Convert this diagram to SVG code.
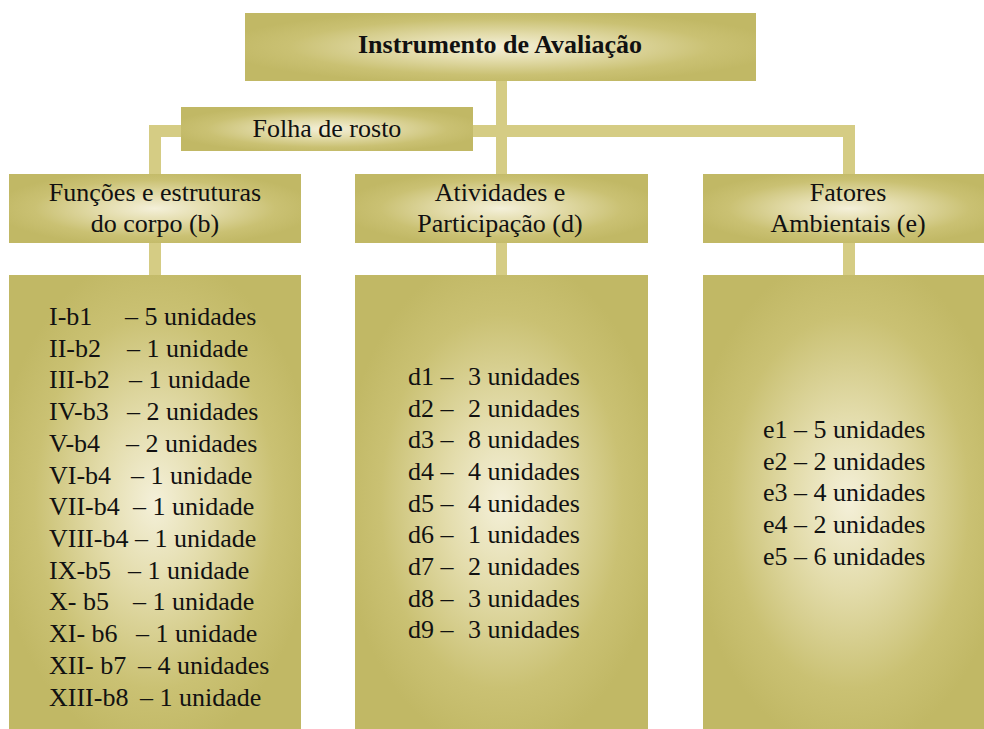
<svg xmlns="http://www.w3.org/2000/svg" width="984" height="729" viewBox="0 0 984 729">
<style>
text{font-family:"Liberation Serif","Times New Roman",serif;font-size:26px;fill:#111;}
.t{text-anchor:middle;}
.b{font-weight:bold;}
.box{fill:url(#g);}
.bar{fill:#d5cc84;}
</style>
<defs>
<radialGradient id="g" cx="0.5" cy="0.5" r="0.55">
<stop offset="0" stop-color="#f4f0d9"/>
<stop offset="0.35" stop-color="#e3dcab"/>
<stop offset="0.75" stop-color="#cac173"/>
<stop offset="1" stop-color="#c1b865"/>
</radialGradient>
</defs>
<rect width="984" height="729" fill="#fff"/>
<g id="connectors">
<rect class="bar" x="496" y="81" width="11" height="194"/>
<rect class="bar" x="149" y="125" width="706" height="12"/>
<rect class="bar" x="149" y="125" width="12" height="150"/>
<rect class="bar" x="843" y="125" width="12" height="150"/>
</g>
<g id="instrumento">
<rect class="box" x="245" y="13" width="511" height="68"/>
<text class="t b" x="500" y="53">Instrumento de Avaliação</text>
</g>
<g id="folha">
<rect class="box" x="181" y="107" width="292" height="44"/>
<text class="t" x="327" y="137">Folha de rosto</text>
</g>
<g id="funcoes">
<rect class="box" x="9" y="174" width="292" height="69"/>
<text class="t" x="155" y="201">Funções e estruturas</text>
<text class="t" x="155" y="232">do corpo (b)</text>
</g>
<g id="atividades">
<rect class="box" x="355" y="174" width="293" height="69"/>
<text class="t" x="500" y="201">Atividades e</text>
<text class="t" x="500" y="232">Participação (d)</text>
</g>
<g id="fatores">
<rect class="box" x="703" y="174" width="292" height="69"/>
<text class="t" x="848" y="201">Fatores</text>
<text class="t" x="848" y="232">Ambientais (e)</text>
</g>
<g id="lista-b">
<rect class="box" x="9" y="275" width="292" height="454"/>
<text x="49" y="325">I-b1</text><text x="125" y="325">– 5 unidades</text>
<text x="49" y="357">II-b2</text><text x="127" y="357">– 1 unidade</text>
<text x="49" y="388">III-b2</text><text x="129" y="388">– 1 unidade</text>
<text x="49" y="420">IV-b3</text><text x="127" y="420">– 2 unidades</text>
<text x="49" y="452">V-b4</text><text x="126" y="452">– 2 unidades</text>
<text x="49" y="484">VI-b4</text><text x="131" y="484">– 1 unidade</text>
<text x="49" y="515">VII-b4</text><text x="133" y="515">– 1 unidade</text>
<text x="49" y="547">VIII-b4</text><text x="135" y="547">– 1 unidade</text>
<text x="49" y="579">IX-b5</text><text x="128" y="579">– 1 unidade</text>
<text x="49" y="610">X- b5</text><text x="133" y="610">– 1 unidade</text>
<text x="49" y="642">XI- b6</text><text x="136" y="642">– 1 unidade</text>
<text x="49" y="674">XII- b7</text><text x="138" y="674">– 4 unidades</text>
<text x="49" y="706">XIII-b8</text><text x="140" y="706">– 1 unidade</text>
</g>
<g id="lista-d">
<rect class="box" x="355" y="275" width="293" height="454"/>
<text x="408" y="385">d1 –</text><text x="468" y="385">3 unidades</text>
<text x="408" y="417">d2 –</text><text x="468" y="417">2 unidades</text>
<text x="408" y="448">d3 –</text><text x="468" y="448">8 unidades</text>
<text x="408" y="480">d4 –</text><text x="468" y="480">4 unidades</text>
<text x="408" y="512">d5 –</text><text x="468" y="512">4 unidades</text>
<text x="408" y="543">d6 –</text><text x="468" y="543">1 unidades</text>
<text x="408" y="575">d7 –</text><text x="468" y="575">2 unidades</text>
<text x="408" y="607">d8 –</text><text x="468" y="607">3 unidades</text>
<text x="408" y="638">d9 –</text><text x="468" y="638">3 unidades</text>
</g>
<g id="lista-e">
<rect class="box" x="703" y="275" width="292" height="454"/>
<text x="763" y="438">e1 – 5 unidades</text>
<text x="763" y="470">e2 – 2 unidades</text>
<text x="763" y="501">e3 – 4 unidades</text>
<text x="763" y="533">e4 – 2 unidades</text>
<text x="763" y="565">e5 – 6 unidades</text>
</g>
</svg>
